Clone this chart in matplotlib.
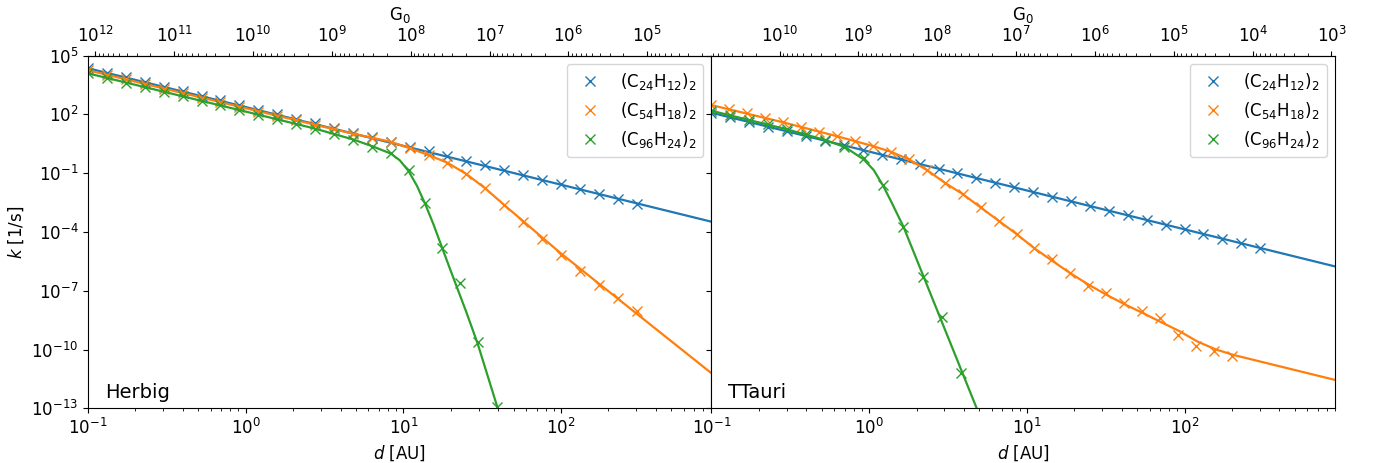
import numpy as np
import matplotlib.pyplot as plt
from matplotlib.ticker import NullLocator

# model distances [AU] (shared grid of the computed points)
d_grid = [0.100, 0.132, 0.174, 0.229, 0.302, 0.398, 0.525, 0.692, 0.912, 1.202,
          1.585, 2.089, 2.754, 3.631, 4.786, 6.310, 8.318, 10.96, 14.45, 19.05,
          25.12, 33.11, 43.65, 57.54, 75.86, 100.0, 131.8, 173.8, 229.1, 302.0]

# ---------------- Herbig ----------------
logk_c24_herbig = [4.35, 4.12, 3.88, 3.65, 3.41, 3.18, 2.95, 2.71, 2.48, 2.24,
                   2.01, 1.78, 1.54, 1.31, 1.07, 0.84, 0.60, 0.35, 0.11, -0.13,
                   -0.37, -0.61, -0.85, -1.10, -1.34, -1.58, -1.83, -2.07, -2.31, -2.56]
logk_c54_herbig = [4.25, 4.02, 3.78, 3.55, 3.31, 3.08, 2.85, 2.61, 2.38, 2.14,
                   1.92, 1.69, 1.46, 1.24, 1.01, 0.80, 0.60, 0.27, -0.08, -0.47,
                   -1.05, -1.78, -2.63, -3.48, -4.38, -5.18, -6.00, -6.71, -7.39, -8.02]
d_c96_herbig = d_grid[:17] + [10.8, 13.8, 17.6, 22.8, 29.6, 39.4]
logk_c96_herbig = [4.09, 3.86, 3.62, 3.39, 3.16, 2.92, 2.69, 2.45, 2.22, 1.98,
                   1.75, 1.51, 1.27, 0.99, 0.69, 0.35, 0.01,
                   -0.84, -2.51, -4.84, -6.59, -9.60, -12.92]

# fitted curves
dfit_c24_herbig = [0.1, 900]
logkfit_c24_herbig = [4.35, -3.48]
dfit_c54_herbig = [0.1, 1.0, 4.786, 8.318, 10.96, 14.45, 19.05, 25.12, 33.11, 43.65,
                   57.54, 75.86, 100.0, 900]
logkfit_c54_herbig = [4.25, 2.31, 1.01, 0.60, 0.27, -0.08, -0.47, -1.05, -1.78, -2.63,
                      -3.45, -4.28, -5.10, -11.21]
dfit_c96_herbig = [0.1, 1.0, 2.754, 4.786, 6.31, 8.318, 9.5, 10.8, 12.2, 13.8,
                   15.5, 17.6, 20.0, 25.0, 29.6, 39.4, 42.0]
logkfit_c96_herbig = [4.09, 2.14, 1.27, 0.72, 0.38, 0.0, -0.35, -0.90, -1.65, -2.60,
                      -3.60, -4.80, -6.00, -8.06, -9.70, -12.92, -13.8]

# ---------------- TTauri ----------------
logk_c24_ttauri = [2.08, 1.84, 1.60, 1.37, 1.13, 0.89, 0.65, 0.41, 0.18, -0.06,
                   -0.30, -0.54, -0.78, -1.01, -1.25, -1.49, -1.73, -1.97, -2.20, -2.44,
                   -2.68, -2.92, -3.16, -3.39, -3.63, -3.87, -4.11, -4.35, -4.58, -4.82]
d_c54_ttauri = [0.100, 0.130, 0.169, 0.219, 0.285, 0.371, 0.482, 0.626, 0.814, 1.057,
                1.374, 1.786, 2.321, 3.016, 3.920, 5.093, 6.620, 8.603, 11.18, 14.53,
                18.88, 24.54, 31.89, 41.44, 53.85, 69.98, 90.95, 118.2, 153.6, 199.6]
logk_c54_ttauri = [2.47, 2.26, 2.05, 1.82, 1.59, 1.36, 1.12, 0.88, 0.64, 0.38,
                   0.09, -0.30, -0.84, -1.49, -2.07, -2.75, -3.43, -4.11, -4.84, -5.40,
                   -6.11, -6.76, -7.13, -7.64, -8.02, -8.41, -9.26, -9.82, -10.06, -10.33]
d_c96_ttauri = [0.100, 0.132, 0.174, 0.229, 0.302, 0.398, 0.525, 0.692, 0.923, 1.218,
                1.649, 2.196, 2.916, 3.849]
logk_c96_ttauri = [2.18, 1.96, 1.71, 1.49, 1.23, 0.98, 0.69, 0.32, -0.24, -1.60,
                   -3.73, -6.32, -8.33, -11.18]

dfit_c24_ttauri = [0.1, 900]
logkfit_c24_ttauri = [2.08, -5.76]
dfit_c54_ttauri = [0.1, 0.285, 0.626, 1.057, 1.374, 1.786, 2.321, 3.016, 3.920, 5.093,
                   6.620, 8.603, 11.18, 14.53, 18.88, 24.54, 32.2, 41.9, 55.1, 70.9,
                   92.7, 121.3, 158.5, 205.0, 371.5, 900]
logkfit_c54_ttauri = [2.47, 1.59, 0.88, 0.38, 0.09, -0.30, -0.84, -1.49, -2.07, -2.75,
                      -3.43, -4.11, -4.84, -5.48, -6.11, -6.68, -7.22, -7.70, -8.16, -8.60,
                      -9.06, -9.60, -10.0, -10.28, -10.79, -11.55]
dfit_c96_ttauri = [0.1, 0.302, 0.525, 0.706, 0.817, 0.923, 1.068, 1.218, 1.363, 1.649,
                   4.81, 5.2]
logkfit_c96_ttauri = [2.18, 1.23, 0.69, 0.32, -0.02, -0.30, -0.84, -1.60, -2.37, -3.73,
                      -13.0, -13.8]

labels = [r'(C$_{24}$H$_{12}$)$_2$', r'(C$_{54}$H$_{18}$)$_2$', r'(C$_{96}$H$_{24}$)$_2$']
colors = ['C0', 'C1', 'C2']

# G0 = C / d^2
C_herbig = 1.24e10
C_ttauri = 7.3e8
g0_ticks_herbig = [1e12, 1e11, 1e10, 1e9, 1e8, 1e7, 1e6, 1e5]
g0_ticks_ttauri = [1e10, 1e9, 1e8, 1e7, 1e6, 1e5, 1e4, 1e3]

panels = [
    ('Herbig', C_herbig, g0_ticks_herbig,
     [(d_grid, logk_c24_herbig), (d_grid, logk_c54_herbig), (d_c96_herbig, logk_c96_herbig)],
     [(dfit_c24_herbig, logkfit_c24_herbig), (dfit_c54_herbig, logkfit_c54_herbig),
      (dfit_c96_herbig, logkfit_c96_herbig)]),
    ('TTauri', C_ttauri, g0_ticks_ttauri,
     [(d_grid, logk_c24_ttauri), (d_c54_ttauri, logk_c54_ttauri), (d_c96_ttauri, logk_c96_ttauri)],
     [(dfit_c24_ttauri, logkfit_c24_ttauri), (dfit_c54_ttauri, logkfit_c54_ttauri),
      (dfit_c96_ttauri, logkfit_c96_ttauri)]),
]

plt.rcParams['font.size'] = 12

fig, axes = plt.subplots(1, 2, sharey=True, figsize=(13.73, 4.63), dpi=100)
plt.subplots_adjust(left=0.0641, right=0.9723, bottom=0.1181, top=0.8801, wspace=0)

for ax, (name, C, g0_ticks, points, fits) in zip(axes, panels):
    for (d, lk), (df, lkf), lab, col in zip(points, fits, labels, colors):
        ax.plot(df, 10.0 ** np.array(lkf), color=col, lw=1.6)
        ax.plot(d, 10.0 ** np.array(lk), ls='none', marker='x', ms=7, color=col, label=lab)
    ax.set_xscale('log')
    ax.set_yscale('log')
    ax.set_xlim(0.1, 900)
    ax.set_ylim(1e-13, 1e5)
    ax.set_xlabel('$d$ [AU]')
    ax.text(0.027, 0.03, name, transform=ax.transAxes, fontsize=14)
    ax.legend(loc='upper right', fontsize=12)

    def fwd(x, C=C):
        x = np.maximum(np.asarray(x, dtype=float), 1e-30)
        return C / x ** 2

    def inv(g, C=C):
        g = np.maximum(np.asarray(g, dtype=float), 1e-30)
        return np.sqrt(C / g)

    sec = ax.secondary_xaxis('top', functions=(fwd, inv))
    sec.set_xticks(g0_ticks)
    sec.set_xlabel('G$_0$')

axes[0].set_yticks([1e5, 1e2, 1e-1, 1e-4, 1e-7, 1e-10, 1e-13])
axes[0].yaxis.set_minor_locator(NullLocator())
axes[0].set_ylabel('$k$ [1/s]')

fig.savefig('out.png', dpi=100)
